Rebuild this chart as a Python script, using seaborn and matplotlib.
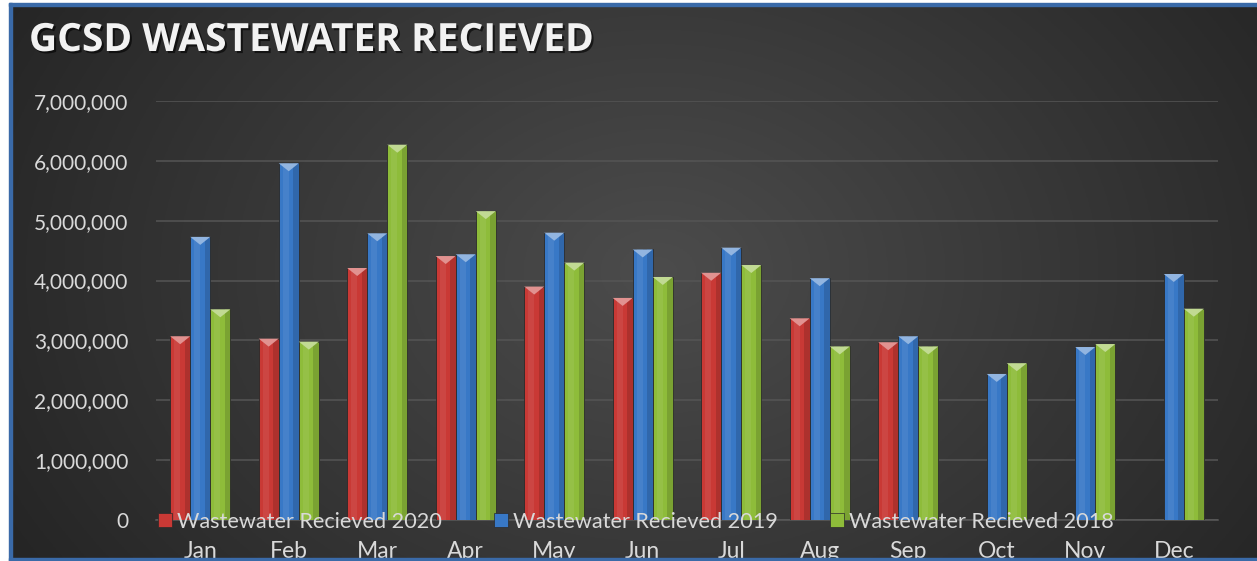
import numpy as np
import pandas as pd
import matplotlib.pyplot as plt
import seaborn as sns
from matplotlib.patches import Rectangle, Polygon
from matplotlib.lines import Line2D
from matplotlib.ticker import MultipleLocator, FuncFormatter
import matplotlib.patheffects as pe
from matplotlib.colors import to_rgb

# Data (gallons received per month)
months = ['Jan', 'Feb', 'Mar', 'Apr', 'May', 'Jun',
          'Jul', 'Aug', 'Sep', 'Oct', 'Nov', 'Dec']
received_2020 = [3070000, 3030000, 4210000, 4410000, 3900000, 3710000,
                 4130000, 3370000, 2970000, np.nan, np.nan, np.nan]
received_2019 = [4730000, 5960000, 4790000, 4440000, 4800000, 4520000,
                 4550000, 4040000, 3070000, 2440000, 2890000, 4110000]
received_2018 = [3520000, 2980000, 6270000, 5160000, 4300000, 4060000,
                 4260000, 2900000, 2900000, 2620000, 2940000, 3530000]
series_names = ['Wastewater Recieved 2020', 'Wastewater Recieved 2019',
                'Wastewater Recieved 2018']

df = pd.DataFrame({
    'month': months * 3,
    'gallons': received_2020 + received_2019 + received_2018,
    'series': [series_names[0]] * 12 + [series_names[1]] * 12 + [series_names[2]] * 12,
})

palette = {series_names[0]: '#c93935',
           series_names[1]: '#3878c6',
           series_names[2]: '#8ebc3a'}
text_color = '#d9d9d9'

sns.set_style('dark')
plt.rcParams['font.family'] = ['Lato', 'DejaVu Sans']

W, H = 1257, 561
fig = plt.figure(figsize=(W / 100, H / 100), dpi=100)
fig.patch.set_facecolor('white')

# dark radial gradient background
bg = fig.add_axes([0, 0, 1, 1], zorder=-10)
gx, gy = np.meshgrid(np.linspace(0, 1, 400), np.linspace(0, 1, 200))
r = np.clip(np.sqrt(((gx - 0.52) / 0.6) ** 2 + ((gy - 0.48) / 1.0) ** 2), 0, 1)
c0 = np.array(to_rgb('#4c4c4c'))
c1 = np.array(to_rgb('#252525'))
img = c0[None, None, :] * (1 - r[..., None]) + c1[None, None, :] * r[..., None]
bg.imshow(img, extent=[9 / W, 1, 0, 1 - 4 / H], aspect='auto', origin='upper')
bg.set_xlim(0, 1)
bg.set_ylim(0, 1)
bg.axis('off')

# border lines
border = '#3a6aa8'
fig.patches.append(Rectangle((9 / W, 0), 3 / W, 1 - 3 / H, transform=fig.transFigure,
                             color=border, zorder=5))
fig.patches.append(Rectangle((9 / W, 1 - 6 / H), 1, 3 / H, transform=fig.transFigure,
                             color=border, zorder=5))
fig.patches.append(Rectangle((9 / W, 0), 1, 3 / H, transform=fig.transFigure,
                             color=border, zorder=5))

ax = fig.add_axes([156 / W, 1 - 520 / H, (1218 - 156) / W, (520 - 101) / H])
ax.set_facecolor('none')

sns.barplot(data=df, x='month', y='gallons', hue='series', hue_order=series_names,
            palette=palette, width=0.68, gap=0.0, errorbar=None, legend=False,
            edgecolor='#2a2a2a', linewidth=0.6, saturation=1, ax=ax, zorder=3)

ax.set_ylim(0, 7000000)
ax.yaxis.set_major_locator(MultipleLocator(1000000))
ax.yaxis.set_major_formatter(FuncFormatter(lambda v, _: f'{v:,.0f}'))
ax.grid(axis='y', color='#555555', linewidth=1.1, zorder=0)
ax.grid(axis='x', visible=False)
for side in ['top', 'right', 'left']:
    ax.spines[side].set_visible(False)
ax.spines['bottom'].set_color('#5a5a5a')
ax.spines['bottom'].set_linewidth(1.1)
ax.tick_params(axis='y', length=0, pad=20, labelsize=15, labelcolor=text_color)
ax.tick_params(axis='x', length=0, pad=15, labelsize=16.5, labelcolor=text_color)
ax.set_xlabel('')
ax.set_ylabel('')

# bevelled tops and side shading, taken from each drawn bar
ax_h_px = (520 - 101)
dy = 8 * 7000000 / ax_h_px
for p in ax.patches:
    h = p.get_height()
    if not np.isfinite(h) or h <= 0:
        continue
    x0, w = p.get_x(), p.get_width()
    fc = np.array(p.get_facecolor()[:3])
    light = fc + (1 - fc) * 0.45
    dark = fc * 0.7
    ax.add_patch(Rectangle((x0 + w * 0.72, 0), w * 0.28, h, color=dark, alpha=0.45,
                           lw=0, zorder=4))
    ax.add_patch(Rectangle((x0 + w * 0.2, 0), w * 0.3, h, color='white', alpha=0.07,
                           lw=0, zorder=4))
    ax.add_patch(Polygon([(x0, h), (x0 + w, h), (x0 + w / 2, h - dy)], closed=True,
                         color=light, lw=0, zorder=5))

# legend
handles = [Line2D([], [], marker='s', linestyle='none', markersize=9.5,
                  markerfacecolor=palette[s], markeredgecolor='#2a2a2a',
                  markeredgewidth=0.5) for s in series_names]
fig.legend(handles, series_names, loc='center left', ncol=3, frameon=False,
           bbox_to_anchor=(156 / W, 1 - 522 / H), fontsize=15.6, labelcolor=text_color,
           handlelength=0.8, handletextpad=0.15, columnspacing=2.35, borderpad=0,
           borderaxespad=0)

fig.text(29 / W, 1 - 51 / H, 'GCSD WASTEWATER RECIEVED', color='#f2f2f2',
         fontsize=28, fontweight='bold', family=['Open Sans', 'DejaVu Sans'],
         va='baseline', ha='left',
         path_effects=[pe.withSimplePatchShadow(offset=(1.5, -1.5), shadow_rgbFace='black',
                                                alpha=0.6)])

fig.savefig('out.png', dpi=100)
